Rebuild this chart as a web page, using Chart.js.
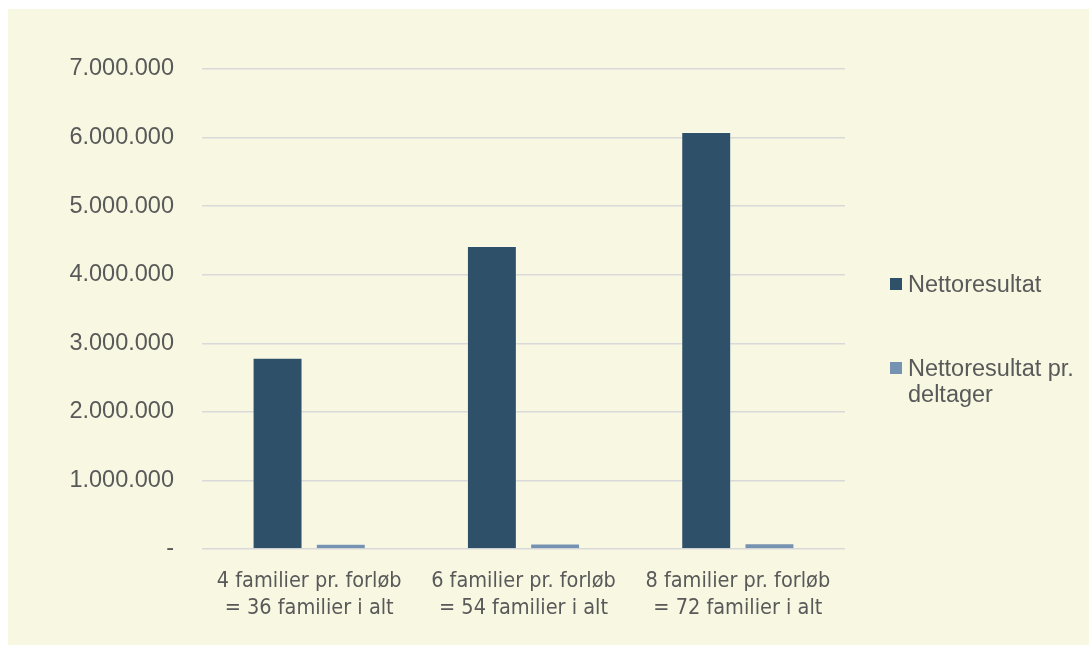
<!DOCTYPE html>
<html lang="da">
<head>
    <meta charset="UTF-8">
    <title>Nettoresultat</title>
    <script src="https://cdn.jsdelivr.net/npm/chart.js"></script>
    <style>
        html, body { margin: 0; padding: 0; background: #ffffff; }
        body { width: 1089px; height: 646px; position: relative; overflow: hidden; font-family: "Liberation Sans", Arial, sans-serif; }

        /* cream panel behind the chart */
        .panel {
            position: absolute;
            left: 8px; top: 9px;
            width: 1081px; height: 636px;
            background: #f8f7e2;
        }
        .chart-box {
            position: absolute;
            left: 0; top: 0;
            width: 1089px; height: 646px;
        }

        /* legend done in html so the second label can wrap */
        #legend {
            position: absolute;
            left: 890px; top: 271px;
            width: 199px;
            color: #595959;
            font-size: 23.5px;
            line-height: 26px;
        }
        .legend-item { position: relative; padding-left: 18px; margin-bottom: 58px; }
        .legend-item .swatch {
            position: absolute; left: 0; top: 7px;
            width: 12px; height: 12px;
        }
    </style>
</head>
<body>

    <div class="panel"></div>
    <div class="chart-box"><canvas id="chart"></canvas></div>
    <div id="legend"></div>

    <script>
        // Data
        const categories = [
            ['4 familier pr. forløb', '= 36 familier i alt'],
            ['6 familier pr. forløb', '= 54 familier i alt'],
            ['8 familier pr. forløb', '= 72 familier i alt']
        ];
        const seriesNames = ['Nettoresultat', 'Nettoresultat pr. deltager'];
        const nettoresultat = [2790000, 4420000, 6080000];
        const nettoPrDeltager = [77000, 81500, 84000];
        const seriesColors = ['#2e5069', '#7593b0'];

        const textColor = '#595959';
        const yFont = { family: '"Liberation Sans", Arial, sans-serif', size: 23.5 };
        // category labels in the picture use a narrow face
        const xFont = { family: '"Liberation Sans Narrow", "Arial Narrow", "DejaVu Sans Condensed", sans-serif', size: 21.5, lineHeight: 1.25 };

        // danish thousands separator, zero shown as a dash
        function formatTick(v) {
            if (v === 0) return '-';
            return String(v).replace(/\B(?=(\d{3})+(?!\d))/g, '.');
        }

        const chart = new Chart(document.getElementById('chart').getContext('2d'), {
            type: 'bar',
            data: {
                labels: categories,
                datasets: [
                    {
                        label: seriesNames[0],
                        data: nettoresultat,
                        backgroundColor: seriesColors[0],
                        borderColor: 'rgba(255,255,255,0.35)',
                        borderWidth: 1
                    },
                    {
                        label: seriesNames[1],
                        data: nettoPrDeltager,
                        backgroundColor: seriesColors[1],
                        borderColor: 'rgba(255,255,255,0.35)',
                        borderWidth: 1
                    }
                ]
            },
            options: {
                responsive: true,
                maintainAspectRatio: false,
                animation: false,
                datasets: {
                    bar: { categoryPercentage: 0.59, barPercentage: 0.79 }
                },
                layout: {
                    padding: { top: 69, right: 244, bottom: 0, left: 0 }
                },
                plugins: {
                    legend: { display: false },
                    tooltip: { enabled: false }
                },
                scales: {
                    x: {
                        grid: { display: false },
                        border: { display: false },
                        ticks: {
                            color: textColor,
                            font: xFont,
                            autoSkip: false,
                            maxRotation: 0,
                            minRotation: 0,
                            padding: 11
                        },
                        afterFit: (scale) => { scale.height = 97; }
                    },
                    y: {
                        min: 0,
                        max: 7000000,
                        ticks: {
                            stepSize: 1000000,
                            color: textColor,
                            font: yFont,
                            padding: 28,
                            callback: (v) => formatTick(v)
                        },
                        grid: {
                            color: '#d9d9d9',
                            lineWidth: 1.5,
                            drawTicks: false
                        },
                        border: { display: false },
                        afterFit: (scale) => { scale.width = 202; }
                    }
                }
            }
        });

        // build the legend from the datasets
        const legend = document.getElementById('legend');
        chart.data.datasets.forEach((ds) => {
            const item = document.createElement('div');
            item.className = 'legend-item';
            const sw = document.createElement('span');
            sw.className = 'swatch';
            sw.style.background = ds.backgroundColor;
            item.appendChild(sw);
            item.appendChild(document.createTextNode(ds.label));
            legend.appendChild(item);
        });
    </script>

</body>
</html>
